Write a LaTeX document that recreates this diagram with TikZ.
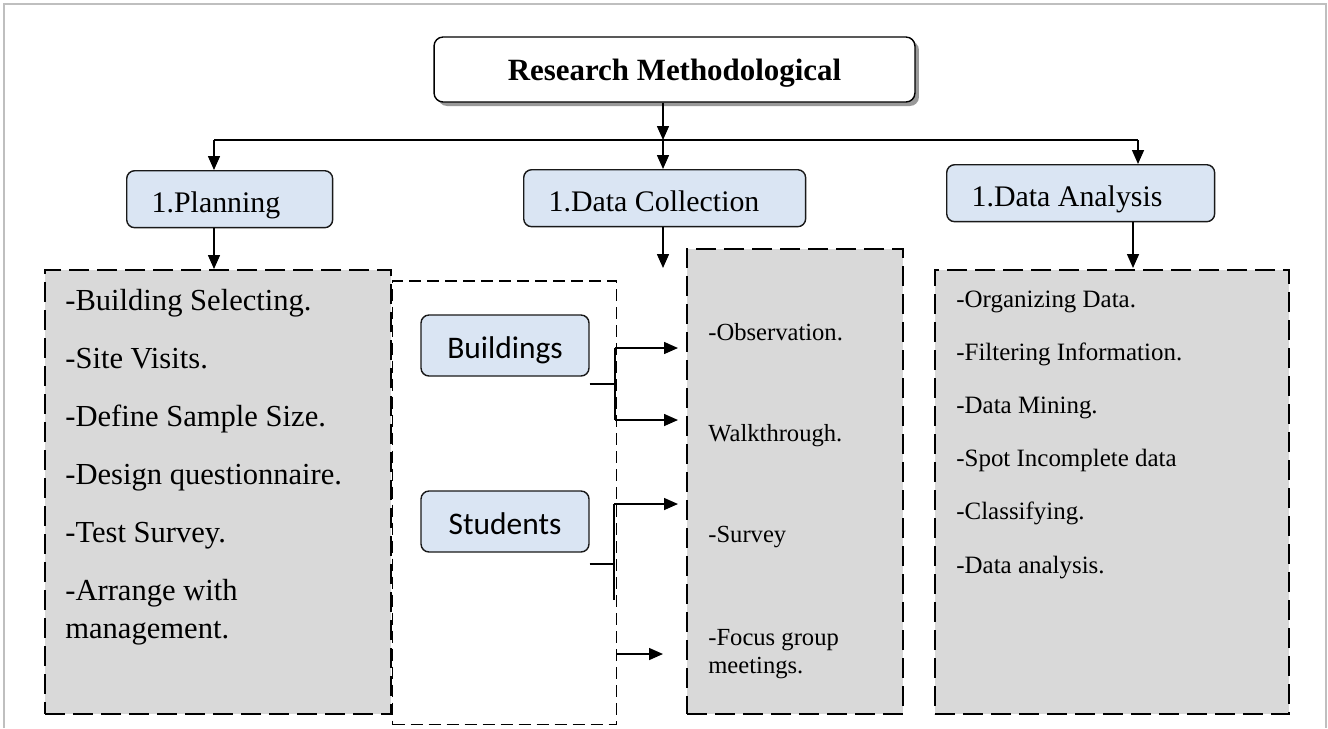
\documentclass[tikz,border=0pt]{standalone}
\usepackage{fontspec}
\setmainfont{Liberation Serif}
\newfontfamily\sansfont{Carlito}
\usepackage{xcolor}
\usetikzlibrary{arrows.meta,shadows}
\definecolor{boxblue}{RGB}{218,229,243}
\definecolor{boxgray}{RGB}{217,217,217}

\begin{document}
\begin{tikzpicture}[x=0.02cm, y=-0.02cm]
	\tikzstyle{head} = [draw=black!90, line width=0.8pt, fill=boxblue, rounded corners=0.16cm, anchor=north west, align=flush left, inner xsep=0.5cm, inner ysep=0pt, text height=0.84cm, text depth=0.3cm, font=\fontsize{17}{20}\selectfont]
	\tikzstyle{tag} = [draw=black!90, line width=0.8pt, fill=boxblue, rounded corners=0.16cm, minimum width=3.36cm, inner ysep=0pt, text height=0.86cm, text depth=0.36cm, font=\sansfont\fontsize{17.9}{21}\selectfont]
	\tikzstyle{listbox} = [draw, fill=boxgray, line width=1.4pt, dash pattern=on 0.4cm off 0.16cm, anchor=north west, inner sep=0pt]
	\tikzstyle{items} = [anchor=base west, align=left, inner sep=0pt]
	\tikzstyle{arr} = [line width=0.85pt, -{Triangle[length=0.28cm, width=0.24cm]}]
	\useasboundingbox (0,0) rectangle (1328,728);
	\draw [black!25, line width=0.7pt] (4,728) -- (4,4) -- (1326,4) -- (1326,728);

	\node [draw, line width=0.8pt, fill=white, rounded corners=0.18cm, minimum width=9.62cm, inner ysep=0pt, text height=0.86cm, text depth=0.44cm, font=\bfseries\fontsize{17.6}{21}\selectfont, drop shadow={shadow xshift=0.08cm, shadow yshift=-0.08cm, fill=black!40, opacity=1}] (title) at (674.5,69.5) {Research Methodological};

	\node [head, text width=3.12cm] (plan) at (126,170) {1.Planning};
	\node [head, text width=4.64cm] (collect) at (523,169) {1.Data Collection};
	\node [head, text width=4.36cm] (analysis) at (946,164) {1.Data Analysis};

	\node [draw, line width=0.85pt, dash pattern=on 0.24cm off 0.12cm, anchor=north west, minimum width=4.48cm, minimum height=8.88cm, inner sep=0pt] (sources) at (392,280) {};
	\node [listbox, minimum width=6.92cm, minimum height=8.88cm] (planlist) at (44,269) {};
	\node [listbox, minimum width=4.32cm, minimum height=9.3cm] (collectlist) at (686,248) {};
	\node [listbox, minimum width=7.08cm, minimum height=8.88cm] (analysislist) at (934,269) {};

	% base anchor sits on the last line
	\node [items, font=\fontsize{17.4}{21.6}\selectfont] (plantext) at (65,638) {-Building Selecting.\\[0.4cm] -Site Visits.\\[0.4cm] -Define Sample Size.\\[0.4cm] -Design questionnaire.\\[0.4cm] -Test Survey.\\[0.4cm] -Arrange with\\ management.};
	\node [items, font=\fontsize{14}{15.9}\selectfont] (collecttext) at (708,673) {-Observation.\\[1.46cm] Walkthrough.\\[1.46cm] -Survey\\[1.5cm] -Focus group\\ meetings.};
	\node [items, font=\fontsize{14.2}{30.2}\selectfont] (analysistext) at (956,573) {-Organizing Data.\\ -Filtering Information.\\ -Data Mining.\\ -Spot Incomplete data\\ -Classifying.\\ -Data analysis.};

	\node [tag] (bld) at (505,345.5) {Buildings};
	\node [tag] (std) at (505,521.5) {Students};

	\coordinate (split) at (663,140);
	\coordinate (busl) at (214,140);
	\coordinate (busr) at (1138,140);
	\coordinate (collectend) at (663,268);
	\coordinate (adrop) at (1133,268);
	\draw [arr] (split |- title.south) -- (split);
	\draw [line width=0.85pt] (busl) -- (busr);
	\draw [arr] (busl) -- (busl |- plan.north);
	\draw [arr] (split) -- (split |- collect.north);
	\draw [arr] (busr) -- (busr |- analysis.north);
	\draw [arr] (busl |- plan.south) -- (busl |- planlist.north);
	\draw [arr] (split |- collect.south) -- (collectend);
	\draw [arr] (adrop |- analysis.south) -- (adrop);

	\coordinate (bldtop) at (615,348);
	\coordinate (bldmid) at (615,384);
	\coordinate (bldbot) at (615,420);
	\draw [line width=1pt] (bldtop) -- (bldbot);
	\draw [line width=0.85pt] (bld.east |- bldmid) -- (bldmid);
	\draw [arr, shorten >=0.16cm] (bldtop) -- (bldtop -| collectlist.west);
	\draw [arr, shorten >=0.16cm] (bldbot) -- (bldbot -| collectlist.west);

	\coordinate (stdtop) at (614,504);
	\coordinate (stdmid) at (614,564);
	\coordinate (stdbot) at (614,600);
	\coordinate (focus) at (616,654);
	\draw [line width=1pt] (stdtop) -- (stdbot);
	\draw [line width=0.85pt] (std.east |- stdmid) -- (stdmid);
	\draw [arr, shorten >=0.16cm] (stdtop) -- (stdtop -| collectlist.west);
	\draw [arr, shorten >=0.46cm] (focus) -- (focus -| collectlist.west);
\end{tikzpicture}
\end{document}
